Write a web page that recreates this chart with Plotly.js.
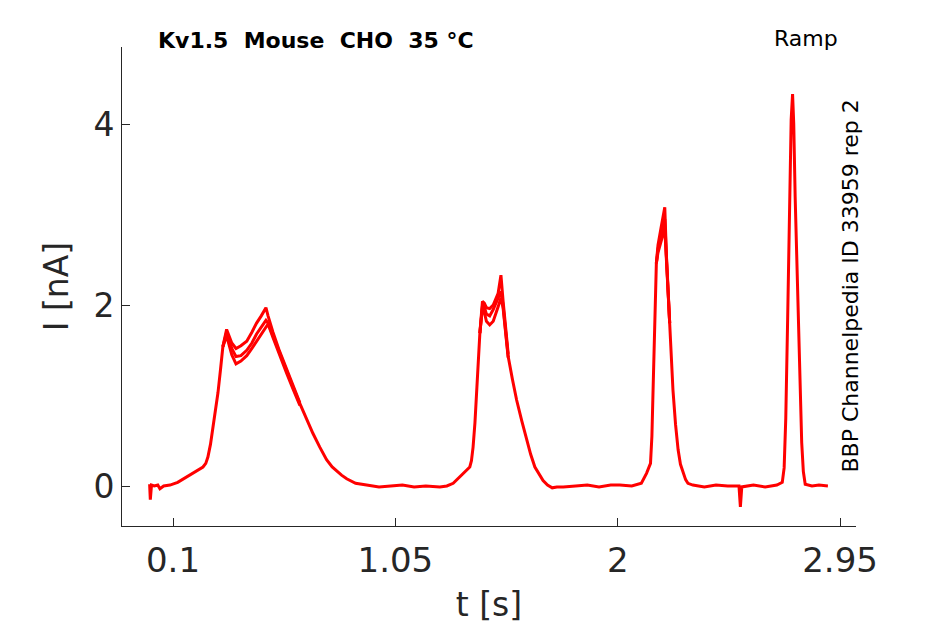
<!DOCTYPE html>
<html>
<head>
<meta charset="utf-8">
<script src="https://cdn.plot.ly/plotly-3.0.1.min.js"></script>
<style>
  html, body { margin: 0; padding: 0; background: #fff; }
  #chart { width: 945px; height: 624px; }
</style>
</head>
<body>
<div id="chart"></div>
<script>
// time [s] and current [nA] of the main sweep
const timeS = [0, 0.003, 0.008, 0.02, 0.035, 0.044, 0.06, 0.087, 0.12, 0.158, 0.195, 0.228, 0.24, 0.249, 0.26, 0.271, 0.282, 0.292,
  0.303, 0.313, 0.329, 0.351, 0.369, 0.39, 0.415, 0.437, 0.457, 0.477, 0.497, 0.506, 0.527, 0.555, 0.585, 0.613, 0.642,
  0.67, 0.698, 0.727, 0.756, 0.78, 0.80, 0.82, 0.842, 0.88, 0.927, 0.98, 1.03, 1.08, 1.13, 1.18, 1.24, 1.27, 1.297, 1.325, 1.35, 1.368,
  1.375, 1.382, 1.39, 1.397, 1.404, 1.411, 1.422, 1.43, 1.439, 1.453, 1.468, 1.489, 1.501, 1.51, 1.52, 1.532, 1.55, 1.568, 1.59, 1.61,
  1.628, 1.646, 1.665, 1.681, 1.70, 1.72, 1.74, 1.767, 1.82, 1.87, 1.92, 1.97, 2.009, 2.06, 2.101, 2.123, 2.14, 2.146, 2.151, 2.158, 2.165,
  2.172, 2.187, 2.201, 2.208, 2.215, 2.222, 2.236, 2.247, 2.258, 2.268, 2.279, 2.29, 2.3, 2.321, 2.37, 2.42, 2.47, 2.518, 2.524, 2.53,
  2.58, 2.63, 2.68, 2.703, 2.711, 2.718, 2.726, 2.734, 2.741, 2.747, 2.752, 2.758, 2.765, 2.772, 2.779, 2.786, 2.793, 2.801, 2.83,
  2.86, 2.898];
const currentMain = [0.02, -0.15, 0.01, 0.0, 0.01, -0.03, 0.0, 0.01, 0.04, 0.10, 0.16, 0.21, 0.25, 0.32, 0.46, 0.65, 0.84, 1.03,
  1.29, 1.54, 1.70, 1.52, 1.43, 1.44, 1.50, 1.58, 1.68, 1.75, 1.83, 1.80, 1.66, 1.46, 1.27, 1.09, 0.91,
  0.74, 0.58, 0.43, 0.29, 0.21, 0.16, 0.12, 0.08, 0.03, 0.01, -0.01, 0.0, 0.01, -0.01, 0.0, -0.01, 0.0, 0.03, 0.10, 0.16, 0.21,
  0.28, 0.43, 0.70, 1.03, 1.36, 1.69, 1.99, 1.98, 1.90, 1.88, 1.95, 2.08, 2.15, 2.0, 1.72, 1.43, 1.18, 0.95, 0.72, 0.51,
  0.35, 0.21, 0.12, 0.06, 0.01, -0.02, -0.01, -0.01, 0.0, 0.01, -0.01, 0.01, 0.01, 0.0, 0.03, 0.14, 0.25, 0.55, 1.06, 1.80, 2.46,
  2.62, 2.80, 2.95, 2.53, 2.17, 1.80, 1.06, 0.68, 0.40, 0.24, 0.14, 0.07, 0.03, 0.01, -0.01, 0.01, 0.0, 0.0, -0.23, -0.01,
  0.01, -0.01, 0.01, 0.04, 0.20, 0.75, 1.85, 3.27, 4.05, 4.33, 4.00, 3.20, 2.45, 1.75, 1.05, 0.48, 0.16, 0.02, 0.0,
  0.01, 0.0];

// other repetitions, where they separate from the main sweep
const timePeak1 = [0.313, 0.329, 0.351, 0.369, 0.39, 0.415, 0.437, 0.457, 0.477, 0.497, 0.506, 0.527, 0.555, 0.585, 0.613, 0.642];
const upperPeak1 = [1.54, 1.73, 1.58, 1.52, 1.55, 1.60, 1.70, 1.80, 1.88, 1.97, 1.88, 1.70, 1.49, 1.29, 1.10, 0.92];
const lowerPeak1 = [1.54, 1.66, 1.45, 1.35, 1.38, 1.44, 1.52, 1.60, 1.68, 1.76, 1.79, 1.64, 1.44, 1.25, 1.07, 0.89];
const timePeak2 = [1.411, 1.422, 1.43, 1.439, 1.453, 1.468, 1.489, 1.501, 1.51, 1.52, 1.532];
const upperPeak2 = [1.69, 2.04, 2.02, 1.97, 1.96, 2.0, 2.13, 2.33, 2.05, 1.75, 1.46];
const lowerPeak2 = [1.69, 1.97, 1.92, 1.82, 1.78, 1.82, 1.98, 2.08, 1.97, 1.70, 1.42];
const timePeak3 = [2.165, 2.172, 2.187, 2.201, 2.208, 2.215, 2.222];
const upperPeak3 = [2.46, 2.66, 2.88, 3.08, 2.55, 2.18, 1.80];
const lowerPeak3 = [2.46, 2.58, 2.72, 2.85, 2.50, 2.15, 1.80];

const xTicks = [0.1, 1.05, 2, 2.95];
const xTickText = ['0.1', '1.05', '2', '2.95'];
const yTicks = [0, 2, 4];

const red = '#ff0000';
const axisColor = '#262626';

function sweep(x, y) {
  return { x: x, y: y, type: 'scatter', mode: 'lines',
    line: { color: red, width: 3 }, hoverinfo: 'skip', showlegend: false };
}

const data = [
  sweep(timeS, currentMain),
  sweep(timePeak1, upperPeak1), sweep(timePeak1, lowerPeak1),
  sweep(timePeak2, upperPeak2), sweep(timePeak2, lowerPeak2),
  sweep(timePeak3, upperPeak3), sweep(timePeak3, lowerPeak3)
];

const layout = {
  width: 945,
  height: 624,
  paper_bgcolor: '#fff',
  plot_bgcolor: '#fff',
  font: { family: 'DejaVu Sans', color: axisColor },
  margin: { l: 122, r: 89, t: 47, b: 98, pad: 0 },
  showlegend: false,
  xaxis: {
    range: [-0.118, 3.018],
    tickvals: xTicks,
    ticktext: xTickText,
    ticks: 'inside',
    ticklen: 8,
    tickcolor: axisColor,
    ticklabelstandoff: 4,
    showline: true,
    linecolor: axisColor,
    linewidth: 1,
    showgrid: false,
    zeroline: false,
    tickfont: { size: 34, color: axisColor },
    title: { text: 't [s]', font: { size: 33, color: axisColor }, standoff: 14 },
    fixedrange: true
  },
  yaxis: {
    range: [-0.442, 4.851],
    tickvals: yTicks,
    ticks: 'inside',
    ticklen: 8,
    tickcolor: axisColor,
    showline: true,
    linecolor: axisColor,
    linewidth: 1,
    showgrid: false,
    zeroline: false,
    tickfont: { size: 33, color: axisColor },
    title: { text: 'I [nA]', font: { size: 33, color: axisColor }, standoff: 14 },
    fixedrange: true
  },
  annotations: [
    { text: '<b>Kv1.5  Mouse  CHO  35 °C</b>', xref: 'paper', yref: 'paper',
      x: 0.047, y: 1.0, xanchor: 'left', yanchor: 'middle', yshift: 7, showarrow: false,
      font: { size: 22, color: '#000' } },
    { text: 'Ramp', xref: 'paper', yref: 'paper', x: 0.978, y: 1.0, xanchor: 'right',
      yanchor: 'middle', yshift: 9, showarrow: false, font: { size: 22, color: '#000' } },
    { text: 'BBP Channelpedia ID 33959 rep 2', xref: 'paper', yref: 'paper', x: 1.0, y: 0.5,
      xanchor: 'center', yanchor: 'middle', xshift: -6, textangle: -90, showarrow: false,
      font: { size: 22, color: '#000' } }
  ]
};

Plotly.newPlot('chart', data, layout, { displayModeBar: false, staticPlot: true });
</script>
</body>
</html>
